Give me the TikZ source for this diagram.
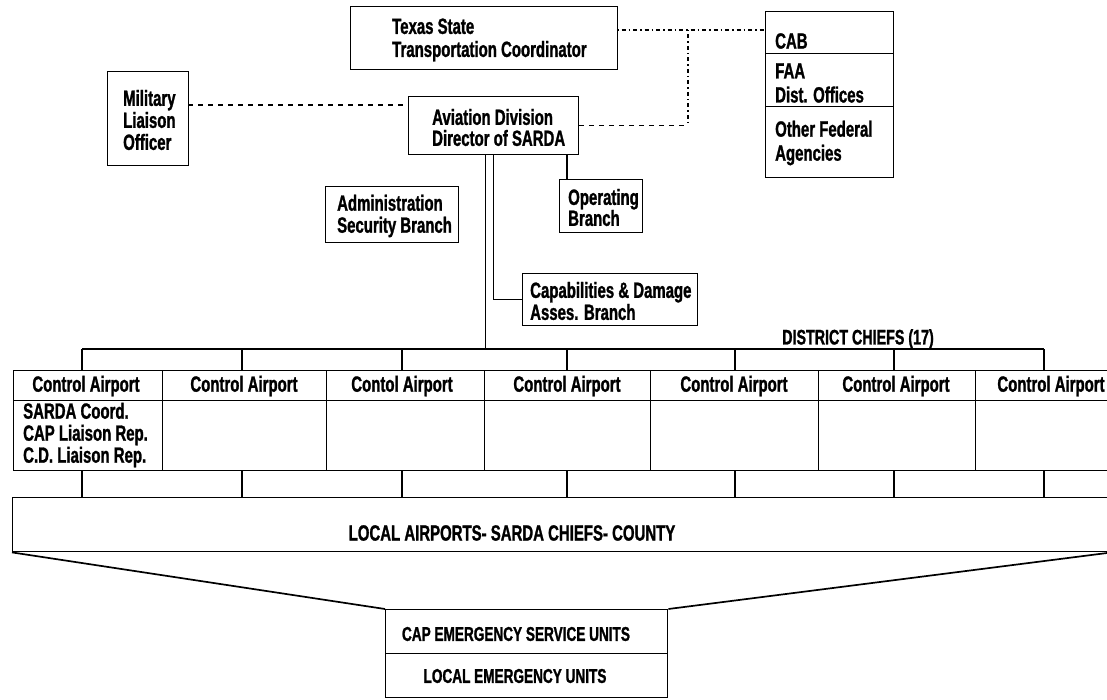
\documentclass[tikz,border=0pt]{standalone}
\usepackage{fontspec}
\newfontfamily\cf[FakeStretch=0.68,FakeBold=1.2]{Liberation Sans}
\begin{document}
\begin{tikzpicture}[x=1pt,y=-1pt,
  bx/.style={draw, line width=1.4pt, rectangle, inner sep=0pt, anchor=north west},
  tx/.style={font=\cf\bfseries\fontsize{22}{#1}\selectfont, inner sep=0pt, align=left, anchor=west},
  tx/.default=22,
  ctr/.style={font=\cf\bfseries\fontsize{#1}{22}\selectfont, inner sep=0pt, anchor=center},
  ctr/.default=22,
  conn/.style={line width=1.3pt},
  dashln/.style={line width=1.2pt, dash pattern=on 5pt off 5pt},
  dotln/.style={line width=1.2pt, dash pattern=on 1.5pt off 3pt on 4pt off 3pt},
  slant/.style={line width=1.7pt}]
\useasboundingbox (0,0) rectangle (1107,700);
\clip (0,0) rectangle (1107,700);

% ---- top boxes
\node[bx, minimum width=267pt, minimum height=63pt] (texas) at (350,6) {};
\node[tx=23] (texasT) at (392,40) {Texas State\\Transportation Coordinator};

\node[bx, minimum width=81pt, minimum height=94pt] (mil) at (107,71) {};
\node[tx=22] (milT) at (123,120) {Military\\Liaison\\Officer};

\node[bx, minimum width=170pt, minimum height=58pt] (avi) at (408,96) {};
\node[tx=21] (aviT) at (432,127.5) {Aviation Division\\Director of SARDA};

\node[bx, minimum width=128pt, minimum height=42pt] (cab) at (765,11) {};
\node[bx, minimum width=128pt, minimum height=53pt] (faa) at (765,53) {};
\node[bx, minimum width=128pt, minimum height=71pt] (ofa) at (765,106) {};
\node[tx] (cabT) at (775,41) {CAB};
\node[tx=24] (faaT) at (775,83) {FAA\\Dist. Offices};
\node[tx=24] (ofaT) at (775,143) {Other Federal\\Agencies};

\node[bx, minimum width=133pt, minimum height=56pt] (adm) at (325,186) {};
\node[tx=22] (admT) at (337,216) {Administration\\Security Branch};

\node[bx, minimum width=83pt, minimum height=53pt] (ops) at (559,179) {};
\node[tx=21] (opsT) at (568,207.5) {Operating\\Branch};

\node[bx, minimum width=175pt, minimum height=52pt] (capd) at (522,273) {};
\node[tx=22] (capdT) at (530,301) {Capabilities \& Damage\\Asses. Branch};

% ---- liaison connectors
\coordinate (mlA) at (188,105);
\draw[dashln] (mlA) -- (mlA -| avi.west);
\coordinate (dl) at (617,30);
\coordinate (vx) at (688,30);
\draw[dotln] (dl) -- (dl -| cab.west);
\draw[dotln] (vx) -- (vx |- avi.east);
\draw[dashln] (avi.east) -- (avi.east -| vx);

% ---- branch connectors
\coordinate (opsx) at (567,200);
\draw[conn] (avi.south -| opsx) -- (ops.north -| opsx);
\draw[conn] (avi.south) |- (capd.west);

% ---- control airports row
\foreach \i/\xa/\w/\cx/\lab in {1/13/149/86/Control Airport,
    2/162/164/244/Control Airport, 3/326/158/402/Contol Airport,
    4/484/166/567/Control Airport, 5/650/168/734/Control Airport,
    6/818/157/896/Control Airport, 7/975/152/1051/Control Airport}{
  \node[bx, minimum width=\w pt, minimum height=30pt] (h\i) at (\xa,370) {};
  \node[bx, minimum width=\w pt, minimum height=70pt] (d\i) at (\xa,400) {};
  \node[ctr] (ht\i) at (\cx,386) {\lab};
}
\node[tx=22] (d1T) at (23,435) {SARDA Coord.\\CAP Liaison Rep.\\C.D. Liaison Rep.};

% ---- district chiefs bus
\node[ctr=21] (dist) at (858,339) {DISTRICT CHIEFS (17)};
\foreach \i/\x in {1/82,2/242,3/402,4/567,5/735,6/894,7/1044}{
  \coordinate (t\i) at (\x,349);
}
\draw[conn] (t1) -- (t7);
\draw[conn] ([xshift=-8pt]avi.south) -- ([xshift=-8pt]avi.south |- t1);
\foreach \i in {1,...,7}{
  \draw[conn] (t\i) -- (t\i |- h\i.north);
}

% ---- local airports
\node[bx, minimum width=1120pt, minimum height=54pt] (local) at (12,497) {};
\node[ctr] (localT) at (512,533) {LOCAL AIRPORTS- SARDA CHIEFS- COUNTY};
\foreach \i in {1,...,7}{
  \draw[conn] (d\i.south -| t\i) -- (t\i |- local.north);
}

% ---- emergency units
\node[bx, minimum width=282pt, minimum height=44pt] (emA) at (385,609) {};
\node[bx, minimum width=282pt, minimum height=44pt] (emB) at (385,653) {};
\node[ctr=20] (emAT) at (516,634) {CAP EMERGENCY SERVICE UNITS};
\node[ctr=20] (emBT) at (515,676) {LOCAL EMERGENCY UNITS};
\coordinate (redge) at (1107,553);
\draw[slant] (local.south west) -- (emA.north west);
\draw[slant] (redge) -- (emA.north east);
\end{tikzpicture}
\end{document}
